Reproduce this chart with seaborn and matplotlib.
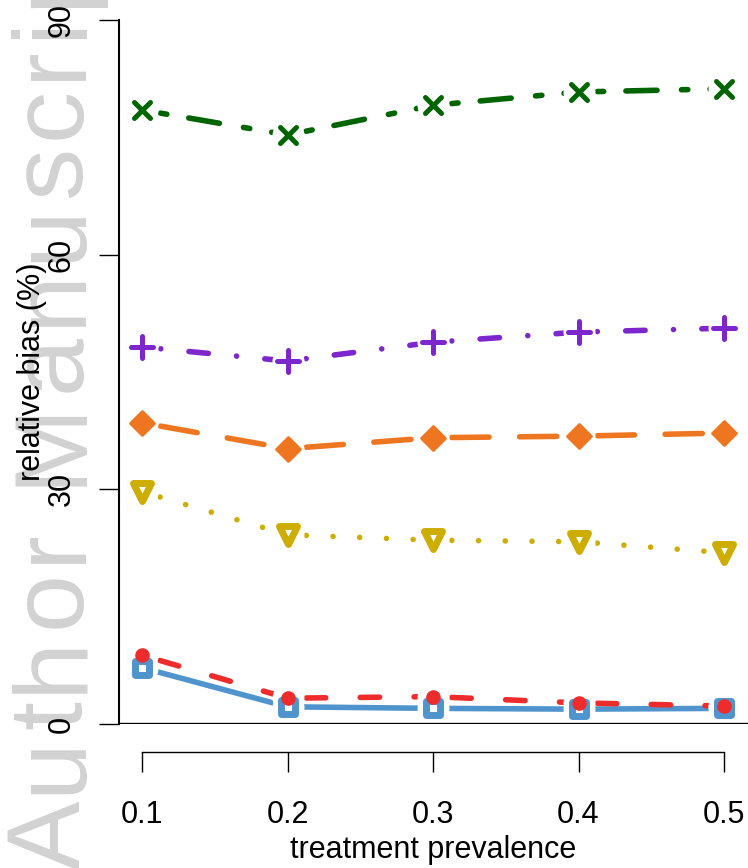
import numpy as np
import pandas as pd
import matplotlib
matplotlib.use("Agg")
import matplotlib.pyplot as plt
import seaborn as sns
from matplotlib.markers import MarkerStyle
from matplotlib import font_manager, ft2font

# ---------------- data ----------------
prevalence = [0.1, 0.2, 0.3, 0.4, 0.5]
x_tick_labels = ["0.1", "0.2", "0.3", "0.4", "0.5"]
y_ticks = [0, 30, 60, 90]
y_tick_labels = ["0", "30", "60", "90"]

bias_green = [78.5, 75.3, 79.1, 80.8, 81.2]
bias_purple = [48.2, 46.4, 48.8, 50.1, 50.6]
bias_orange = [38.5, 35.2, 36.6, 36.8, 37.2]
bias_yellow = [29.7, 24.2, 23.5, 23.3, 21.9]
bias_red = [8.8, 3.3, 3.5, 2.7, 2.3]
bias_blue = [7.2, 2.2, 2.0, 1.9, 2.0]

x_label = "treatment prevalence"
y_label = "relative bias (%)"
watermark = "Author Manuscript"

# ---------------- style ----------------
sns.set_style("white")
plt.rcParams["font.family"] = ["Liberation Sans", "DejaVu Sans"]
for k in ["text.color", "axes.labelcolor", "xtick.color", "ytick.color", "axes.edgecolor"]:
    plt.rcParams[k] = "black"

DPI = 100
W, H = 748, 868
fig = plt.figure(figsize=(W / DPI, H / DPI), dpi=DPI)
fig.patch.set_facecolor("white")

# axes: left spine at x=119 px, y=0 at 724 px, y=90 at 20 px
ax = fig.add_axes([119 / W, (H - 724) / H, (W - 119) / W, 704 / H])
ax.patch.set_alpha(0)
px_per_unit = 1455.0
ax.set_xlim(0.1 - 23 / px_per_unit, 0.1 + (W - 119 - 23) / px_per_unit)
ax.set_ylim(0, 90)

LW = 4.0                       # points
lw_px = LW * DPI / 72
start_units = 18.8 / lw_px     # pattern start distance from point (R type="b")

series = [
    # values, colour, dash pattern (in lw units), marker, ms, mew, face
    (bias_green, "#006400", [1.15, 4.0, 5.6, 4.4], MarkerStyle("x", capstyle="round"), 12, 3.6, "#006400"),
    (bias_purple, "#7D26CD", [0.01, 5.1, 3.5, 5.1], MarkerStyle("+", capstyle="round"), 16, 3.6, "#7D26CD"),
    (bias_orange, "#EE7621", [6.7, 5.5], MarkerStyle("D", joinstyle="round"), 12.5, 2.0, "#EE7621"),
    (bias_yellow, "#CDAD00", [0.01, 4.8], MarkerStyle("v", joinstyle="round"), 13.5, 5.0, "white"),
    (bias_blue, "#4F94CD", None, MarkerStyle("s", joinstyle="round"), 10.5, 5.0, "white"),
    (bias_red, "#EE2C2C", [3.5, 6.2], MarkerStyle("o"), 10.5, 0.0, "#EE2C2C"),
]

# lines, drawn segment by segment so each dash pattern restarts (R type="b")
for vals, col, pat, mk, ms, mew, face in series:
    for i in range(len(prevalence) - 1):
        if pat is None:
            ls = "-"
        else:
            period = sum(pat)
            ls = (period - (start_units % period), pat)
        sns.lineplot(x=prevalence[i:i + 2], y=vals[i:i + 2], ax=ax, color=col,
                     linewidth=LW, linestyle=ls, dash_capstyle="round",
                     solid_capstyle="round", estimator=None, errorbar=None,
                     sort=False, legend=False, zorder=2, clip_on=False)

# white halos = gaps around points
for vals, col, pat, mk, ms, mew, face in series:
    sns.lineplot(x=prevalence, y=vals, ax=ax, color="white", marker="o",
                 markersize=23, markerfacecolor="white", markeredgecolor="white",
                 markeredgewidth=0, linestyle="none", estimator=None,
                 errorbar=None, sort=False, legend=False, zorder=3, clip_on=False)

# zero line
ax.axhline(0, color="black", linewidth=2.4, zorder=4, solid_capstyle="butt")

# markers
for vals, col, pat, mk, ms, mew, face in series:
    sns.lineplot(x=prevalence, y=vals, ax=ax, color=col, marker=mk,
                 markersize=ms, markerfacecolor=face, markeredgecolor=col,
                 markeredgewidth=mew, linestyle="none", estimator=None,
                 errorbar=None, sort=False, legend=False, zorder=5, clip_on=False)

# ---------------- axes ----------------
for s in ["top", "right"]:
    ax.spines[s].set_visible(False)
ax.spines["left"].set_bounds(0, 90)
ax.spines["left"].set_linewidth(1.5)
ax.spines["bottom"].set_position(("outward", 20.4))
ax.spines["bottom"].set_bounds(0.1, 0.5)
ax.spines["bottom"].set_linewidth(1.0)

ax.set_xticks(prevalence, x_tick_labels)
ax.set_yticks(y_ticks, y_tick_labels)
ax.tick_params(axis="x", bottom=True, direction="out", length=14.4, width=1.0,
               pad=20, labelsize=22)
ax.tick_params(axis="y", left=True, direction="out", length=14.4, width=1.0,
               pad=16, labelsize=22)
for t in ax.get_yticklabels():
    t.set_rotation(90)
    t.set_va("center")
    t.set_ha("right")

ax.set_xlabel(x_label, fontsize=22)
ax.xaxis.set_label_coords(0.5, (724 - 850) / 704)
ax.xaxis.label.set_va("center")
ax.set_ylabel(y_label, fontsize=22)
ax.yaxis.set_label_coords((31.5 - 119) / (W - 119), 0.5)
ax.yaxis.label.set_va("center")
ax.yaxis.label.set_ha("center")

# ---------------- watermark ----------------
wm_pt = 75
fpath = font_manager.findfont(font_manager.FontProperties(family="Liberation Sans"))
ftf = ft2font.FT2Font(fpath, hinting_factor=1)
ftf.set_size(wm_pt, DPI)
ypos = 870.0
track = 7.0
for ch in watermark:
    adv = ftf.load_char(ord(ch)).linearHoriAdvance / 65536
    if ypos > -60 and ch != " ":
        fig.text(80 / W, 1 - ypos / H, ch, rotation=90, rotation_mode="anchor",
                 ha="left", va="baseline", fontsize=wm_pt, color="#d2d2d2",
                 family="Liberation Sans", zorder=-1)
    ypos -= adv + track

fig.savefig("out.png", dpi=DPI)
